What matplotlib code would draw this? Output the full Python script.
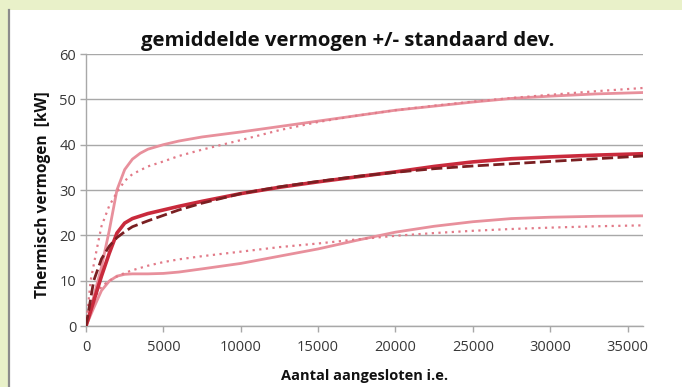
import matplotlib
matplotlib.use("Agg")
import matplotlib.pyplot as plt
from matplotlib.patches import Rectangle
from matplotlib.lines import Line2D

# ---- data ----
x_upper = [0, 500, 1000, 1500, 2000, 2500, 3000, 3500, 4000, 5000, 6000, 7500, 10000, 12500, 15000, 17500, 20000, 22500, 25000, 27500, 30000, 33000, 36000]
upper_solid = [0, 6.5, 13, 21, 30, 34.5, 36.8, 38.1, 39, 40, 40.8, 41.7, 42.8, 44, 45.2, 46.4, 47.6, 48.5, 49.4, 50.2, 50.7, 51.2, 51.5]

x_upper_d = [0, 300, 700, 1000, 1500, 2000, 2500, 3000, 4000, 5000, 6000, 7500, 10000, 12500, 15000, 17500, 20000, 22500, 25000, 27500, 30000, 33000, 36000]
upper_dotted = [0, 10, 17, 22, 26.5, 29.5, 32, 33.5, 35.2, 36.3, 37.5, 38.9, 41, 43.2, 45, 46.4, 47.6, 48.6, 49.5, 50.3, 51, 51.8, 52.5]

x_mean = [0, 500, 1000, 1500, 2000, 2500, 3000, 4000, 5000, 6000, 7500, 10000, 12500, 15000, 17500, 20000, 22500, 25000, 27500, 30000, 33000, 36000]
mean_solid = [0, 5.5, 11, 16, 20.5, 22.7, 23.7, 24.8, 25.6, 26.4, 27.5, 29.2, 30.6, 31.8, 32.9, 34, 35.2, 36.2, 36.9, 37.3, 37.7, 38]
mean_dashed = [0, 10, 14.8, 17.6, 19.5, 20.8, 21.9, 23.2, 24.4, 25.6, 27.1, 29.2, 30.7, 31.9, 33, 33.9, 34.7, 35.3, 35.8, 36.3, 36.9, 37.5]

x_lower = [0, 500, 1000, 1500, 2000, 2500, 3000, 4000, 5000, 6000, 7500, 10000, 12500, 15000, 17500, 20000, 22500, 25000, 27500, 30000, 33000, 36000]
lower_solid = [0, 4, 7.8, 9.9, 11, 11.4, 11.5, 11.5, 11.6, 11.9, 12.6, 13.8, 15.4, 17, 18.9, 20.7, 22, 23, 23.7, 24, 24.2, 24.3]
lower_dotted = [0, 6, 8.7, 10, 10.9, 11.7, 12.3, 13.3, 14.1, 14.7, 15.4, 16.4, 17.4, 18.2, 19.1, 19.9, 20.5, 21, 21.4, 21.7, 22, 22.2]

x_ticks = [0, 5000, 10000, 15000, 20000, 25000, 30000, 35000]
y_ticks = [0, 10, 20, 30, 40, 50, 60]

title = "gemiddelde vermogen +/- standaard dev."
xlabel = "Aantal aangesloten i.e."
ylabel = "Thermisch vermogen  [kW]"

# ---- figure ----
W, H = 682, 387
fig = plt.figure(figsize=(W / 100, H / 100), dpi=100)
fig.patch.set_facecolor("#e9f1c9")
fig.patches.append(Rectangle((10 / W, 0), 1 - 10 / W, 1 - 10 / H,
                             transform=fig.transFigure, facecolor="white",
                             edgecolor="none", zorder=-2))
fig.lines.append(Line2D([9 / W, 9 / W], [0, 1 - 10 / H], transform=fig.transFigure,
                        color="#8c8c8c", lw=1.6, zorder=-1))

left, right = 86 / W, 643 / W
bottom, top = 1 - 326 / H, 1 - 54 / H
ax = fig.add_axes([left, bottom, right - left, top - bottom])
ax.set_zorder(2)
ax.set_facecolor("none")

pink = "#e8909c"
pink_dot = "#e27a88"
ax.plot(x_upper, upper_solid, color=pink, lw=2.0, zorder=3)
ax.plot(x_upper_d, upper_dotted, color=pink_dot, lw=1.6, ls=(0, (1, 2)), zorder=3)
ax.plot(x_lower, lower_solid, color=pink, lw=2.0, zorder=3)
ax.plot(x_lower, lower_dotted, color=pink_dot, lw=1.6, ls=(0, (1, 2)), zorder=3)
ax.plot(x_mean, mean_solid, color="#c92a3c", lw=2.6, zorder=4)
ax.plot(x_mean, mean_dashed, color="#7a1f22", lw=2.0, ls=(0, (4, 1.6)), zorder=5)

ax.set_xlim(0, 36000)
ax.set_ylim(0, 60)
ax.set_xticks(x_ticks)
ax.set_yticks(y_ticks)
ax.set_xticklabels([str(v) for v in x_ticks])
ax.set_yticklabels([str(v) for v in y_ticks])
ax.grid(axis="y", color="#a8a8a8", lw=1.0)
ax.set_axisbelow(True)
for s in ["top", "right"]:
    ax.spines[s].set_visible(False)
for s in ["left", "bottom"]:
    ax.spines[s].set_color("#a8a8a8")
    ax.spines[s].set_linewidth(1.0)
ax.tick_params(axis="both", colors="#a8a8a8", labelcolor="#383838",
               labelsize=10.5, length=4, width=1.0)
ax.tick_params(axis="y", pad=3)
ax.tick_params(axis="x", pad=6)
for lbl in ax.get_xticklabels() + ax.get_yticklabels():
    lbl.set_fontfamily("Open Sans")

fig.text(348 / W, 1 - 41 / H, title, ha="center", va="center",
         fontsize=14.7, fontweight="bold", family="Open Sans", color="#111111")
fig.text(365 / W, 1 - 376 / H, xlabel, ha="center", va="center",
         fontsize=10.5, fontweight="bold", family="Open Sans", color="#111111")
fig.text(43 / W, 1 - 195 / H, ylabel, ha="center", va="center", rotation=90,
         fontsize=11.2, fontweight="bold", family="Open Sans", color="#111111")

fig.savefig("out.png", dpi=100)
